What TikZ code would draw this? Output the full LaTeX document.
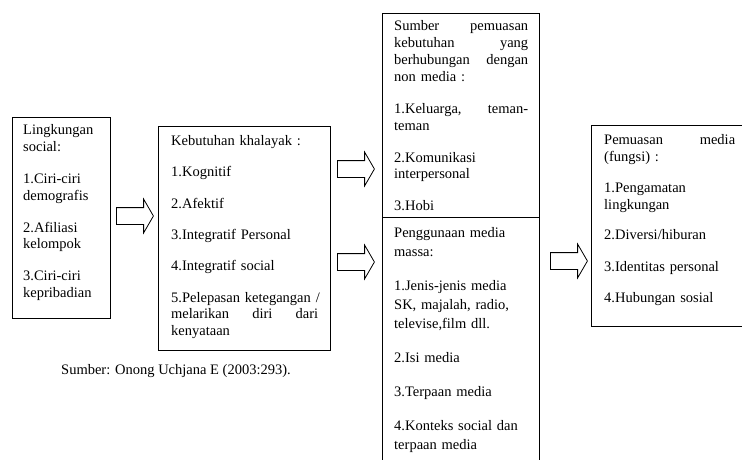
\documentclass[tikz,border=0pt]{standalone}
\usepackage{fontspec}
\setmainfont{Liberation Serif}
\usetikzlibrary{shapes.arrows}
\newcommand\JustLine[2]{\leavevmode\hbox to #1{#2}}
\tikzset{
  frame/.style={draw, line width=0.9pt, inner sep=0pt, anchor=north west},
  txt/.style={anchor=base west, inner sep=0pt, align=left, font=\fontsize{14.5pt}{17pt}\selectfont},
  captxt/.style={anchor=base west, inner sep=0pt, font=\fontsize{14.5pt}{17pt}\selectfont},
  barrow/.style={single arrow, draw, line width=0.8pt, single arrow tip angle=120,
    single arrow head extend=8.5pt, inner xsep=0pt, inner ysep=8pt,
    minimum height=37pt, anchor=tail}
}
\begin{document}
\begin{tikzpicture}[x=1pt,y=-1pt]
\useasboundingbox (0,0) rectangle (742,460);
\begin{scope}
\clip (0,0) rectangle (742,460);
\node[frame, minimum width=98pt, minimum height=201pt] (b1) at (12,117) {};
\node[frame, minimum width=172pt, minimum height=224pt] (b2) at (158,126) {};
\node[frame, minimum width=157pt, minimum height=204pt] (b3) at (382,13) {};
\node[frame, minimum width=157pt, minimum height=260pt] (b4) at (382,217) {};
\node[frame, minimum width=170pt, minimum height=201pt] (b5) at (591,125) {};
\end{scope}

\node[barrow] (a1) at (116,216) {};
\node[barrow] (a2) at (337,169) {};
\node[barrow] (a3) at (337,262) {};
\node[barrow] (a4) at (550,261) {};

\node[txt, text width=90pt] (t1) at (23,135) {Lingkungan\\ social:\\[14.5pt] 1.Ciri-ciri\\ demografis\\[14.5pt] 2.Afiliasi\\ kelompok\\[14.5pt] 3.Ciri-ciri\\ kepribadian};

\node[txt, text width=155pt, font=\fontsize{14.5pt}{16.5pt}\selectfont] (t2) at (171,145) {Kebutuhan khalayak :\\[15pt] 1.Kognitif\\[15pt] 2.Afektif\\[15pt] 3.Integratif Personal\\[15pt] 4.Integratif social\\[15pt] 5.Pelepasan ketegangan /\\ \JustLine{147pt}{melarikan\hfill diri\hfill dari}\\ kenyataan};

\node[txt, text width=140pt, font=\fontsize{14.5pt}{16.7pt}\selectfont] (t3) at (394,31) {\JustLine{134pt}{Sumber\hfill pemuasan}\\ \JustLine{134pt}{kebutuhan\hfill yang}\\ \JustLine{134pt}{berhubungan\hfill dengan}\\ non media :\\[16pt] \JustLine{134pt}{1.Keluarga,\hfill teman-}\\ teman\\[15pt] 2.Komunikasi\\ interpersonal\\[15pt] 3.Hobi};

\node[txt, text width=140pt, font=\fontsize{14.5pt}{19pt}\selectfont] (t4) at (394,237) {Penggunaan media\\ massa:\\[15pt] 1.Jenis-jenis media\\ SK, majalah, radio,\\ televise,film dll.\\[15pt] 2.Isi media\\[15pt] 3.Terpaan media\\[15pt] 4.Konteks social dan\\ terpaan media};

\node[txt, text width=136pt] (t5) at (604,144) {\JustLine{131pt}{Pemuasan\hfill media}\\ (fungsi) :\\[14pt] 1.Pengamatan\\ lingkungan\\[14pt] 2.Diversi/hiburan\\[14pt] 3.Identitas personal\\[14pt] 4.Hubungan sosial};

\node[captxt] (cap) at (61,374) {Sumber: Onong Uchjana E (2003:293).};
\end{tikzpicture}
\end{document}
